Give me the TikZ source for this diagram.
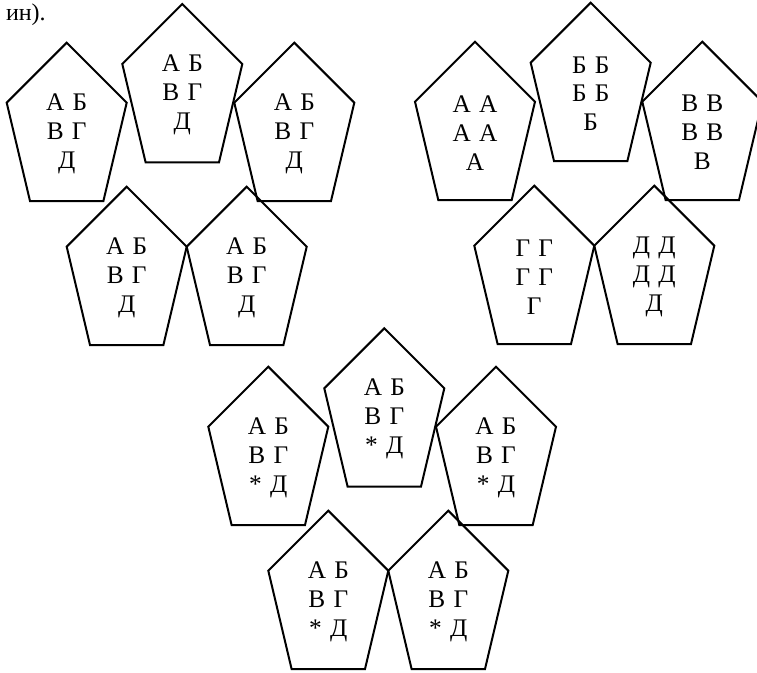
\documentclass[tikz,border=0pt]{standalone}
\usepackage{fontspec}
\setmainfont{Liberation Serif}[WordSpace=1.3]
\newcommand\mypent[4]{% name, x, y (apex), text
  \draw[pentline] (#2,#3) -- ++(60,60) -- ++(-23.3,98.3) -- ++(-73.4,0) -- ++(-23.3,-98.3) -- cycle;
  \node[lbl] (#1) at (#2,#3+91) {#4};
}
\begin{document}
\begin{tikzpicture}[x=0.75pt,y=-0.75pt,
  pentline/.style={line width=1.5pt, line join=miter},
  lbl/.style={align=center, font=\fontsize{19pt}{21.75pt}\selectfont, inner sep=0pt}]
\useasboundingbox (0,0) rectangle (757,672);
\clip (0,0) rectangle (757,672);
\node[anchor=base east, inner sep=0pt, font=\fontsize{18pt}{21.75pt}\selectfont] (tail) at (46,20.5) {ин).};
% group 1
\mypent{a1}{66.7}{42.7}{А Б\\В Г\\Д}
\mypent{b1}{182.3}{4}{А Б\\В Г\\Д}
\mypent{c1}{294.3}{42.7}{А Б\\В Г\\Д}
\mypent{d1}{126.7}{186.7}{А Б\\В Г\\Д}
\mypent{e1}{246.7}{186.7}{А Б\\В Г\\Д}
% group 2
\mypent{a2}{475}{41.7}{А А\\А А\\А}
\mypent{b2}{590.7}{2.7}{Б Б\\Б Б\\Б}
\mypent{c2}{702.3}{41.7}{В В\\В В\\В}
\mypent{d2}{534.3}{185.7}{Г Г\\Г Г\\Г}
\mypent{e2}{654.3}{185.7}{Д Д\\Д Д\\Д}
% group 3
\mypent{a3}{268.3}{366.7}{А Б\\В Г\\* Д}
\mypent{b3}{384.3}{328.3}{А Б\\В Г\\* Д}
\mypent{c3}{496}{366.7}{А Б\\В Г\\* Д}
\mypent{d3}{328.3}{510.7}{А Б\\В Г\\* Д}
\mypent{e3}{448.3}{510.7}{А Б\\В Г\\* Д}
\end{tikzpicture}
\end{document}
